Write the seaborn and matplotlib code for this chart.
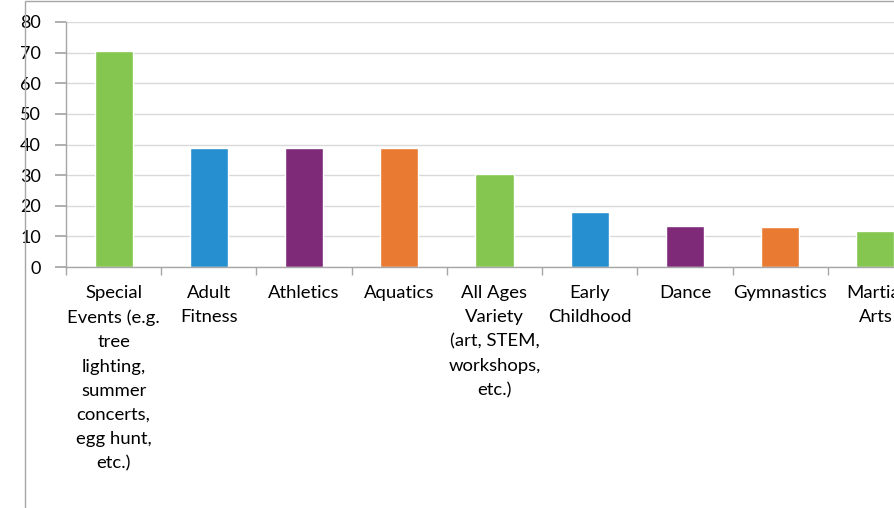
import matplotlib
matplotlib.use("Agg")
import matplotlib.pyplot as plt
import seaborn as sns
import pandas as pd
from matplotlib.patches import Rectangle

categories = [
    "Special\nEvents (e.g.\ntree\nlighting,\nsummer\nconcerts,\negg hunt,\netc.)",
    "Adult\nFitness",
    "Athletics",
    "Aquatics",
    "All Ages\nVariety\n(art, STEM,\nworkshops,\netc.)",
    "Early\nChildhood",
    "Dance",
    "Gymnastics",
    "Martial\nArts",
]
values = [70.4, 39.0, 39.0, 38.7, 30.3, 17.9, 13.5, 12.9, 11.7]
colors = ["#84C650", "#268FCF", "#7E2A78", "#E87A32",
          "#84C650", "#268FCF", "#7E2A78", "#E87A32", "#84C650"]
yticks = [0, 10, 20, 30, 40, 50, 60, 70, 80]

sns.set_theme(style="white")
plt.rcParams["font.family"] = ["Lato", "DejaVu Sans"]

df = pd.DataFrame({"cat": categories, "val": values})

W, H = 895, 508
fig = plt.figure(figsize=(W / 100, H / 100), dpi=100)
ax = fig.add_axes([66 / W, (H - 267) / H, 857 / W, 245 / H])

sns.barplot(data=df, x="cat", y="val", hue="cat", palette=colors,
            width=0.4, legend=False, ax=ax, saturation=1)

ax.set_ylim(0, 80)
ax.set_xlim(-0.5, len(categories) - 0.5)
ax.set_yticks(yticks)
ax.set_xlabel("")
ax.set_ylabel("")
ax.grid(axis="y", color="#d9d9d9", linewidth=1)
ax.set_axisbelow(True)
for s in ["top", "right"]:
    ax.spines[s].set_visible(False)
for s in ["left", "bottom"]:
    ax.spines[s].set_color("#a6a6a6")
    ax.spines[s].set_linewidth(1)

ax.tick_params(axis="y", left=True, length=8, color="#a6a6a6", pad=10,
               labelsize=13, labelcolor="#000000")
# category labels
ax.set_xticks(range(len(categories)))
ax.set_xticklabels(categories, fontsize=13.3, linespacing=1.63, va="top")
ax.tick_params(axis="x", bottom=False, pad=7, labelcolor="#000000")
# boundary tick marks
ax.set_xticks([i - 0.5 for i in range(len(categories) + 1)], minor=True)
ax.tick_params(axis="x", which="minor", bottom=True, length=6,
               color="#a6a6a6", width=1)

# outer chart frame (cropped)
fig.patches.append(Rectangle((25 / W, -0.1), 1.2, (H - 1.5) / H + 0.1,
                             transform=fig.transFigure, fill=False,
                             edgecolor="#a6a6a6", linewidth=1))

fig.savefig("out.png", dpi=100)
